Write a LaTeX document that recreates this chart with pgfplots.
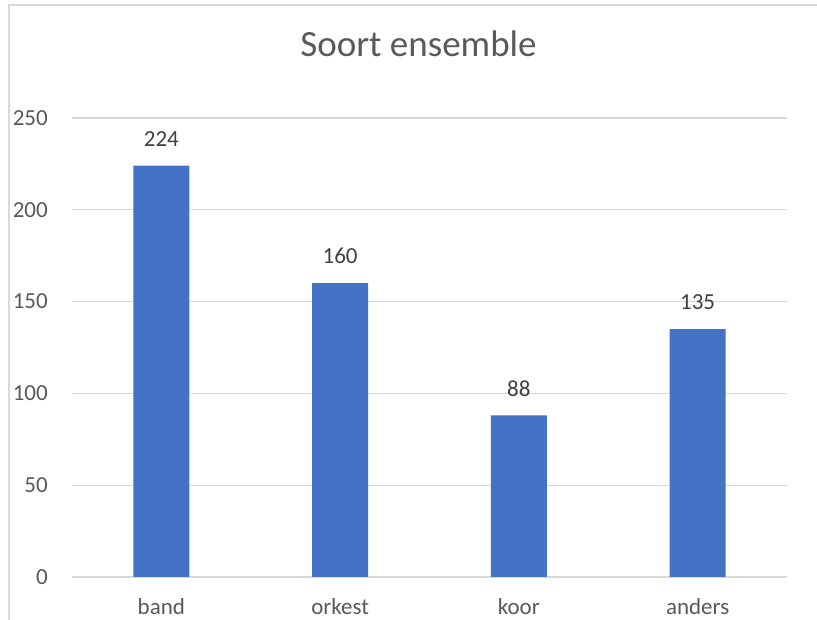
\documentclass[border=0pt]{standalone}
\usepackage{pgfplots}
\pgfplotsset{compat=1.18}
\usepackage{fontspec}
\setmainfont{Carlito}
\definecolor{barblue}{HTML}{4472C4}
\definecolor{gridgray}{HTML}{D9D9D9}
\definecolor{txtgray}{HTML}{595959}
\definecolor{lbldark}{HTML}{404040}

\begin{document}
\begin{tikzpicture}[x=1pt,y=1pt]
  \useasboundingbox (0,0) rectangle (817,620);
  % chart border (cropped on right and bottom)
  \draw[gridgray, line width=1.5pt] (9,-5) -- (9,615) -- (830,615);

  \begin{axis}[
      at={(72pt,43pt)}, anchor=south west,
      scale only axis,
      width=715pt, height=459pt,
      ybar, bar width=56pt,
      xmin=-0.5, xmax=3.5,
      ymin=0, ymax=250,
      ytick={0,50,100,150,200,250},
      xtick={0,1,2,3},
      xticklabels={band,orkest,koor,anders},
      major tick length=0pt,
      axis line style={draw=none},
      ymajorgrids=true,
      grid style={gridgray, line width=1.3pt},
      /pgf/number format/assume math mode=true,
      tick label style={font=\fontsize{23}{27}\selectfont, text=txtgray, inner sep=0pt},
      yticklabel style={anchor=east, xshift=-24pt},
      xticklabel style={anchor=north, yshift=-21pt},
      title={Soort ensemble},
      title style={font=\fontsize{37}{44}\selectfont, text=txtgray,
                   at={(rel axis cs:0.5,1)}, anchor=base, yshift=55pt, xshift=-11pt},
      nodes near coords,
      every node near coord/.append style={font=\fontsize{23}{27}\selectfont,
                   text=lbldark, inner sep=0pt, anchor=south, yshift=19pt},
      clip=false,
    ]
    \addplot[fill=barblue, draw=none] coordinates {
      (0,224) (1,160) (2,88) (3,135)
    };
  \end{axis}
\end{tikzpicture}
\end{document}
